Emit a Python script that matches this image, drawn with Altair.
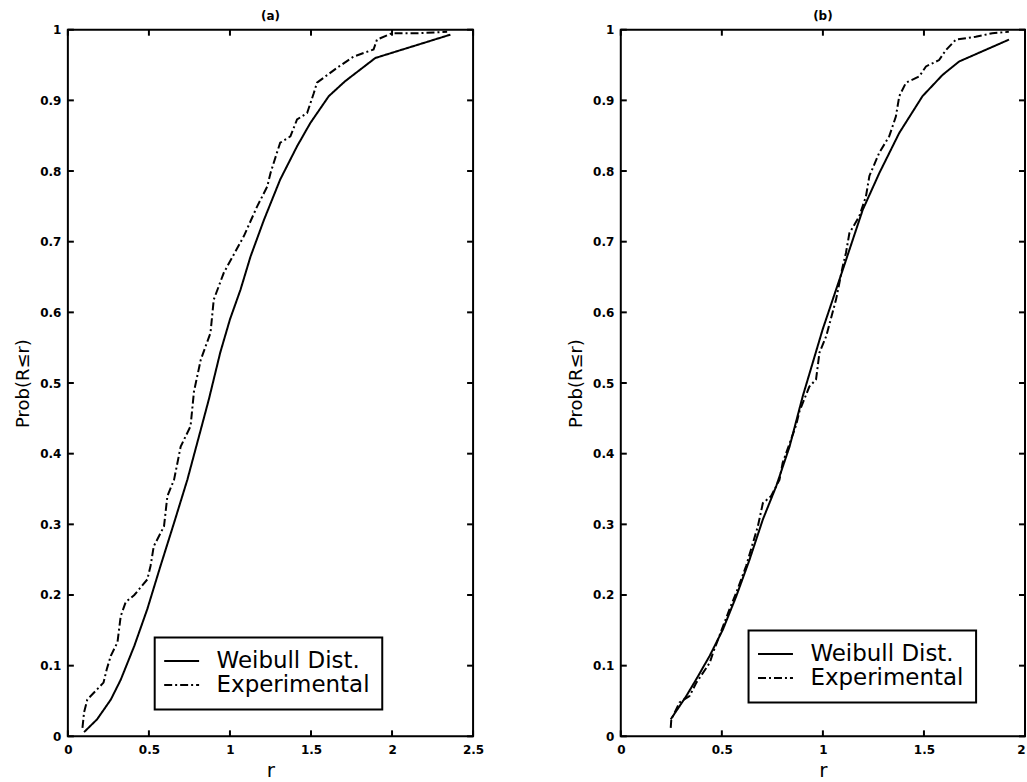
import altair as alt
import pandas as pd

FONT = "DejaVu Sans"
series_names = ["Weibull Dist.", "Experimental"]

# Panel (a)
a_weib_r = [0.10, 0.18, 0.265, 0.326, 0.41, 0.49, 0.57, 0.655, 0.737, 0.82, 0.87, 0.94, 1.0, 1.065,
            1.127, 1.21, 1.31, 1.414, 1.496, 1.61, 1.71, 1.897, 2.36]
a_weib_p = [0.006, 0.024, 0.052, 0.08, 0.128, 0.18, 0.24, 0.302, 0.363, 0.434, 0.477, 0.543, 0.59, 0.632,
            0.679, 0.731, 0.788, 0.835, 0.868, 0.906, 0.927, 0.96, 0.993]
a_exp_r = [0.09, 0.10, 0.12, 0.22, 0.24, 0.265, 0.306, 0.326, 0.357, 0.41, 0.49, 0.51, 0.53, 0.593, 0.614,
           0.655, 0.696, 0.757, 0.778, 0.82, 0.88, 0.90, 0.962, 1.086, 1.168, 1.23, 1.25, 1.29, 1.31, 1.373,
           1.414, 1.476, 1.517, 1.537, 1.66, 1.763, 1.886, 1.907, 2.0, 2.15, 2.34]
a_exp_p = [0.012, 0.034, 0.052, 0.076, 0.095, 0.114, 0.133, 0.17, 0.19, 0.20, 0.222, 0.241, 0.269, 0.297, 0.34,
           0.363, 0.41, 0.439, 0.488, 0.533, 0.571, 0.618, 0.656, 0.708, 0.75, 0.778, 0.797, 0.826, 0.84, 0.849,
           0.873, 0.882, 0.91, 0.925, 0.946, 0.962, 0.972, 0.986, 0.995, 0.995, 0.997]

# Panel (b)
b_weib_r = [0.247, 0.324, 0.374, 0.44, 0.505, 0.571, 0.637, 0.703, 0.769, 0.835, 0.9, 0.999, 1.098, 1.197,
            1.279, 1.378, 1.493, 1.592, 1.674, 1.921]
b_weib_p = [0.024, 0.057, 0.081, 0.114, 0.151, 0.198, 0.25, 0.307, 0.354, 0.41, 0.481, 0.576, 0.66, 0.745,
            0.797, 0.854, 0.906, 0.936, 0.955, 0.986]
b_exp_r = [0.247, 0.25, 0.291, 0.34, 0.374, 0.44, 0.456, 0.538, 0.571, 0.62, 0.678, 0.703, 0.744, 0.785, 0.801,
           0.867, 0.884, 0.933, 0.966, 0.983, 1.016, 1.065, 1.098, 1.114, 1.131, 1.18, 1.213, 1.23, 1.279, 1.328,
           1.361, 1.378, 1.411, 1.477, 1.51, 1.575, 1.608, 1.658, 1.756, 1.838, 1.92]
b_exp_p = [0.012, 0.024, 0.048, 0.057, 0.076, 0.104, 0.118, 0.18, 0.203, 0.241, 0.297, 0.33, 0.34, 0.363, 0.387,
           0.44, 0.46, 0.495, 0.505, 0.543, 0.566, 0.618, 0.665, 0.684, 0.712, 0.736, 0.764, 0.793, 0.826, 0.849,
           0.877, 0.906, 0.925, 0.934, 0.948, 0.957, 0.971, 0.986, 0.99, 0.995, 0.997]

y_ticks = [0, 0.1, 0.2, 0.3, 0.4, 0.5, 0.6, 0.7, 0.8, 0.9, 1]
a_x_ticks = [0, 0.5, 1, 1.5, 2, 2.5]
b_x_ticks = [0, 0.5, 1, 1.5, 2]

H = 708
TICK = 6


def panel(title, wr, wp, er, ep, xmax, xticks, W, lx, ly, last_label):
    df = pd.concat([
        pd.DataFrame({"r": wr, "p": wp, "series": series_names[0], "idx": range(len(wr))}),
        pd.DataFrame({"r": er, "p": ep, "series": series_names[1], "idx": range(len(er))}),
    ])
    xs = alt.Scale(domain=[0, xmax], nice=False, zero=False)
    ys = alt.Scale(domain=[0, 1], nice=False)
    if last_label is not None:
        xalign = {"condition": {"test": f"datum.value == {last_label}", "value": "right"}, "value": "center"}
    else:
        xalign = "center"
    x_axis = alt.Axis(values=xticks, title="r", labelExpr="'' + datum.value", labelAlign=xalign)
    y_axis = alt.Axis(values=y_ticks, title="Prob(R≤r)", labelExpr="'' + datum.value")
    lines = alt.Chart(df).mark_line(color="black", strokeWidth=2).encode(
        x=alt.X("r:Q", scale=xs, axis=x_axis),
        y=alt.Y("p:Q", scale=ys, axis=y_axis),
        strokeDash=alt.StrokeDash(
            "series:N",
            scale=alt.Scale(domain=series_names, range=[[1, 0], [8, 3, 2, 3]]),
            legend=alt.Legend(orient="none", legendX=lx, legendY=ly, title=None,
                              labelFont=FONT, labelFontSize=23, labelColor="black",
                              symbolType="M-1.4,0L2.1,0", symbolSize=400,
                              symbolStrokeWidth=2, symbolStrokeColor="black",
                              symbolFillColor="transparent",
                              labelOffset=27, padding=12, rowPadding=0,
                              strokeColor="black", fillColor="white")),
        order="idx:Q",
    )
    ydf = pd.DataFrame({"p": y_ticks})
    xdf = pd.DataFrame({"r": xticks})
    rule = dict(color="black", strokeWidth=2)
    yl = alt.Chart(ydf).mark_rule(**rule).encode(
        y=alt.Y("p:Q", scale=ys, axis=y_axis), x=alt.value(0), x2=alt.value(TICK))
    yr = alt.Chart(ydf).mark_rule(**rule).encode(
        y=alt.Y("p:Q", scale=ys, axis=y_axis), x=alt.value(W - TICK), x2=alt.value(W))
    xb = alt.Chart(xdf).mark_rule(**rule).encode(
        x=alt.X("r:Q", scale=xs, axis=x_axis), y=alt.value(H - TICK), y2=alt.value(H))
    xt = alt.Chart(xdf).mark_rule(**rule).encode(
        x=alt.X("r:Q", scale=xs, axis=x_axis), y=alt.value(0), y2=alt.value(TICK))
    return alt.layer(lines, yl, yr, xb, xt).properties(
        width=W, height=H, title=alt.Title(title))


pa = panel("(a)", a_weib_r, a_weib_p, a_exp_r, a_exp_p, 2.5, a_x_ticks, 406, 87, 609, None)
pb = panel("(b)", b_weib_r, b_weib_p, b_exp_r, b_exp_p, 2.0, b_x_ticks, 405, 128, 602, 2)

chart = alt.hconcat(pa, pb, spacing=148, bounds="flush").resolve_scale(
    strokeDash="independent", x="independent").resolve_legend(strokeDash="independent").properties(
    padding={"left": 13, "top": 8, "right": 0, "bottom": 0}
).configure_view(
    stroke="black", strokeWidth=2
).configure_axis(
    labelFont=FONT, labelFontSize=12, labelFontWeight="bold", labelColor="black",
    titleFont=FONT, titleFontWeight="normal", titleColor="black",
    ticks=False, domain=False, grid=False, labelPadding=7,
).configure_axisY(
    titleFontSize=18, titlePadding=7,
).configure_axisX(
    titleFontSize=20, titlePadding=5, labelPadding=8,
).configure_title(
    font=FONT, fontSize=12, fontWeight="bold", color="black", offset=1,
).configure_legend(
    strokeWidth=2,
)

chart.save("out.html", embed_options={"renderer": "svg", "actions": False})
